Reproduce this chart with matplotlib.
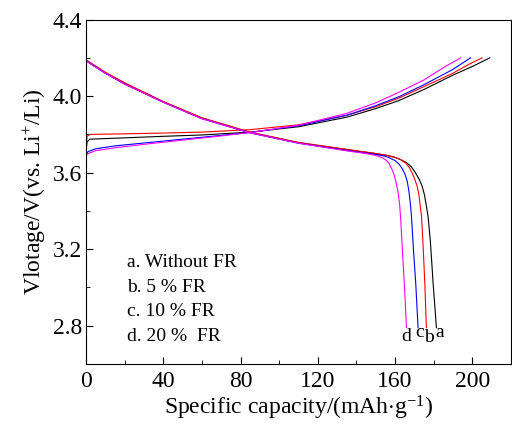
import matplotlib
matplotlib.use("Agg")
import matplotlib.pyplot as plt
from matplotlib.ticker import MultipleLocator

plt.rcParams['font.family'] = ['Liberation Serif', 'DejaVu Serif']
plt.rcParams['mathtext.fontset'] = 'custom'
plt.rcParams['mathtext.rm'] = 'Liberation Serif'
plt.rcParams['mathtext.it'] = 'Liberation Serif:italic'

# charge curves (capacity, voltage)
chg_a_x = [0, 0.5, 2, 15, 40, 60, 85, 110, 135, 150, 162, 175, 190, 200, 209]
chg_a_y = [3.70, 3.76, 3.775, 3.78, 3.79, 3.797, 3.812, 3.84, 3.89, 3.935, 3.977, 4.035, 4.11, 4.155, 4.20]
chg_b_x = [0, 0.5, 2, 20, 40, 60, 85, 110, 135, 150, 162, 175, 190, 198, 205]
chg_b_y = [3.70, 3.79, 3.80, 3.803, 3.807, 3.812, 3.825, 3.85, 3.90, 3.945, 3.99, 4.05, 4.12, 4.165, 4.20]
chg_c_x = [0, 1, 5, 15, 30, 50, 70, 85, 110, 135, 150, 162, 175, 190, 199]
chg_c_y = [3.69, 3.71, 3.725, 3.74, 3.755, 3.775, 3.795, 3.81, 3.845, 3.90, 3.95, 3.997, 4.06, 4.14, 4.20]
chg_d_x = [0, 1, 5, 15, 30, 50, 70, 85, 110, 135, 150, 162, 175, 186, 194]
chg_d_y = [3.69, 3.70, 3.715, 3.73, 3.748, 3.77, 3.792, 3.81, 3.848, 3.91, 3.965, 4.02, 4.085, 4.155, 4.20]

# discharge curves
dis_a_x = [0, 10, 20, 40, 60, 85, 110, 135, 150, 156, 160, 163, 166, 168.5, 170.5, 172.5, 174,
           175.3, 176.3, 177.1, 178.2, 179, 179.7, 180.6, 181.4]
dis_a_y = [4.185, 4.12, 4.065, 3.97, 3.885, 3.81, 3.757, 3.72, 3.70, 3.69, 3.68, 3.668, 3.652, 3.63, 3.60, 3.565, 3.53,
           3.48, 3.42, 3.37, 3.25, 3.13, 3.02, 2.90, 2.79]
dis_b_x = [0, 10, 20, 40, 60, 85, 110, 135, 150, 156, 160, 163, 165.5, 167.3, 168.8, 170.2, 171.4,
           172.4, 173.1, 173.7, 174.5, 175.4, 176.2]
dis_b_y = [4.19, 4.125, 4.07, 3.972, 3.887, 3.812, 3.758, 3.722, 3.70, 3.69, 3.68, 3.667, 3.65, 3.628, 3.60, 3.565, 3.53,
           3.48, 3.42, 3.37, 3.22, 3.02, 2.79]
dis_c_x = [0, 10, 20, 40, 60, 85, 110, 135, 150, 154, 157, 160, 162, 163.8, 165.2, 166.3, 167.2,
           167.9, 168.5, 169.5, 170.7, 171.9]
dis_c_y = [4.185, 4.12, 4.063, 3.968, 3.882, 3.808, 3.754, 3.716, 3.695, 3.688, 3.678, 3.663, 3.645, 3.62, 3.59, 3.555, 3.50,
           3.44, 3.37, 3.20, 3.02, 2.79]
dis_d_x = [0, 10, 20, 40, 60, 85, 110, 135, 145, 150, 153, 155, 156.8, 158.3, 159.6, 160.6, 161.5,
           162.3, 162.9, 163.8, 164.9, 165.9]
dis_d_y = [4.185, 4.12, 4.063, 3.968, 3.882, 3.808, 3.754, 3.714, 3.70, 3.69, 3.68, 3.668, 3.65, 3.62, 3.585, 3.545, 3.50,
           3.44, 3.36, 3.19, 3.00, 2.79]

colors = ['black', 'red', 'blue', '#ff00ff']
legend_lines = ['a. Without FR', 'b. 5 % FR', 'c. 10 % FR', 'd. 20 %  FR']

fig = plt.figure(figsize=(5.12, 4.26), dpi=100)
ax = fig.add_axes([0.168, 0.1455, 0.83, 0.8085])

charge = [(chg_a_x, chg_a_y), (chg_b_x, chg_b_y), (chg_c_x, chg_c_y), (chg_d_x, chg_d_y)]
discharge = [(dis_a_x, dis_a_y), (dis_b_x, dis_b_y), (dis_c_x, dis_c_y), (dis_d_x, dis_d_y)]
for (cx, cy), (dx, dy), c in zip(charge, discharge, colors):
    ax.plot(cx, cy, color=c, lw=0.8)
    ax.plot(dx, dy, color=c, lw=0.8)

ax.set_xlim(0, 220)
ax.set_ylim(2.6, 4.4)
ax.xaxis.set_major_locator(MultipleLocator(40))
ax.xaxis.set_minor_locator(MultipleLocator(20))
ax.yaxis.set_major_locator(MultipleLocator(0.4))
ax.yaxis.set_minor_locator(MultipleLocator(0.2))
ax.tick_params(which='both', direction='in', labelsize=17)
ax.tick_params(which='major', length=5)
ax.tick_params(which='minor', length=3)
ax.tick_params(axis='y', pad=3)
ax.tick_params(axis='x', pad=5)
ax.yaxis.set_major_formatter(plt.FormatStrFormatter('%.1f'))

ax.set_xlabel('Specific capacity/(mAh$\\cdot$g$^{-1}$)', fontsize=17, labelpad=1)
ax.set_ylabel('Vlotage/V(vs. Li$^{+}$/Li)', fontsize=17, labelpad=3)

for i, t in enumerate(legend_lines):
    ax.text(21, 3.132 - i * 0.1295, t, fontsize=14, va='center')

ax.text(166, 2.745, 'd', fontsize=14, ha='center', va='center')
ax.text(172.6, 2.765, 'c', fontsize=14, ha='center', va='center')
ax.text(177.4, 2.74, 'b', fontsize=14, ha='center', va='center')
ax.text(183, 2.765, 'a', fontsize=14, ha='center', va='center')

fig.savefig('out.png', dpi=100)
